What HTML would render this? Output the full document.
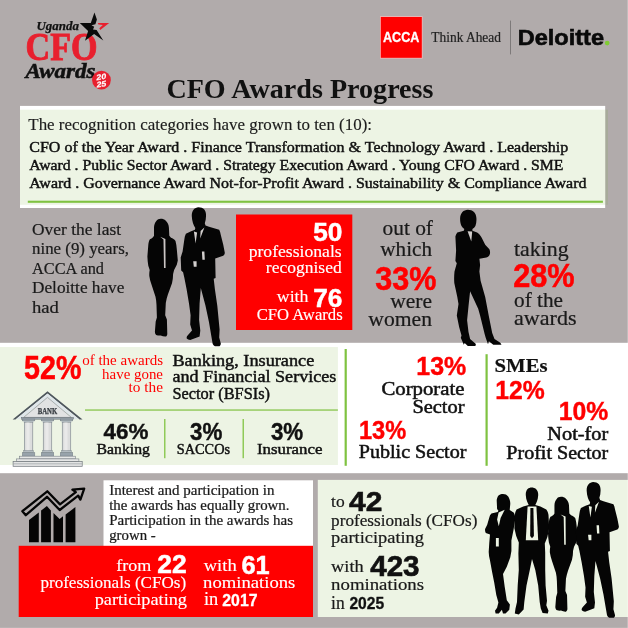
<!DOCTYPE html>
<html><head><meta charset="utf-8"><title>CFO Awards Progress</title>
<style>
html,body{margin:0;padding:0;background:#b1abab;}
svg{display:block;will-change:transform;font-family:"Liberation Serif",serif;}
text{white-space:pre;}
</style></head>
<body>
<svg width="628" height="628" viewBox="0 0 628 628">
<!-- backgrounds -->
<rect width="628" height="628" fill="#b1abab"/>
<rect x="0" y="627" width="628" height="1" fill="#b8b3b3"/>
<rect x="20" y="105.9" width="585.2" height="102.1" fill="#fff"/>
<rect x="605.2" y="109.7" width="2.8" height="95.1" fill="#a7ab9a"/>
<rect x="20" y="109.7" width="585.2" height="95.1" fill="#edf4e4"/>
<rect x="27.8" y="200.7" width="575.1" height="2.1" fill="#7fc241"/>
<rect x="0" y="342.8" width="628" height="130.4" fill="#fff"/>
<rect x="0" y="347" width="337.9" height="118" fill="#edf4e4"/>
<rect x="85" y="409.3" width="252.9" height="1.5" fill="#7fc241" opacity=".8"/>
<rect x="164" y="419" width="1.5" height="39.2" fill="#7fc241" opacity=".85"/>
<rect x="242.5" y="419" width="1.5" height="39.2" fill="#7fc241" opacity=".85"/>
<rect x="344.6" y="349" width="2.2" height="116.8" fill="#7fc241"/>
<rect x="485.5" y="354.2" width="2.2" height="111.6" fill="#7fc241"/>
<rect x="236" y="214.5" width="116.3" height="115.5" fill="#ff0000"/>
<rect x="103.5" y="480.3" width="209.5" height="66" fill="#fff"/>
<rect x="18.7" y="545.8" width="294.3" height="71.2" fill="#ff0000"/>
<rect x="317.8" y="479.9" width="310.2" height="137.1" fill="#edf4e4"/>
<rect x="380" y="16.2" width="42.6" height="42.4" fill="#f5b5b5"/>
<rect x="380.8" y="17" width="41" height="40.8" fill="#f00"/>
<!-- bank icon -->
<path d="M47.5 391.2 L82.6 419.6 L79.6 419.6 L47.5 393.7 L15.4 419.6 L12.6 419.6 Z" fill="#4e565d"/>
<path d="M47.5 393.6 L79 419.2 L74.6 419.2 L47.5 397.2 L20.4 419.2 L16 419.2 Z" fill="#dfe6ea"/>
<path d="M47.5 397.4 L71.4 417.4 L23.6 417.4 Z" fill="#e1e2e3" stroke="#7d858b" stroke-width=".6"/>
<text x="47.5" y="413.8" font-size="7.6" font-weight="bold" fill="#363b41" stroke="#363b41" stroke-width=".25" text-anchor="middle" textLength="19.5" lengthAdjust="spacingAndGlyphs">BANK</text>
<rect x="21.5" y="417.4" width="52" height="1.8" fill="#98a3ab" stroke="#4e565d" stroke-width=".4"/>
<rect x="22.25" y="419" width="12.6" height="1.9" fill="#98a3ab" stroke="#6d767d" stroke-width=".4"/>
<rect x="23.55" y="420.9" width="10" height="1.5" fill="#b9c1c7"/>
<rect x="24.35" y="422.2" width="8.4" height="28.8" fill="#dcdddd" stroke="#858d93" stroke-width=".7"/>
<rect x="26.35" y="422.6" width="3.2" height="28" fill="#e9e9e9"/>
<rect x="23.55" y="450.6" width="10" height="2.2" fill="#b4bcc2" stroke="#7c858b" stroke-width=".4"/>
<rect x="22.25" y="452.8" width="12.6" height="3.3" fill="#98a3ab" stroke="#6d767d" stroke-width=".4"/>
<rect x="41.2" y="419" width="12.6" height="1.9" fill="#98a3ab" stroke="#6d767d" stroke-width=".4"/>
<rect x="42.5" y="420.9" width="10" height="1.5" fill="#b9c1c7"/>
<rect x="43.3" y="422.2" width="8.4" height="28.8" fill="#dcdddd" stroke="#858d93" stroke-width=".7"/>
<rect x="45.3" y="422.6" width="3.2" height="28" fill="#e9e9e9"/>
<rect x="42.5" y="450.6" width="10" height="2.2" fill="#b4bcc2" stroke="#7c858b" stroke-width=".4"/>
<rect x="41.2" y="452.8" width="12.6" height="3.3" fill="#98a3ab" stroke="#6d767d" stroke-width=".4"/>
<rect x="60.2" y="419" width="12.6" height="1.9" fill="#98a3ab" stroke="#6d767d" stroke-width=".4"/>
<rect x="61.5" y="420.9" width="10" height="1.5" fill="#b9c1c7"/>
<rect x="62.3" y="422.2" width="8.4" height="28.8" fill="#dcdddd" stroke="#858d93" stroke-width=".7"/>
<rect x="64.3" y="422.6" width="3.2" height="28" fill="#e9e9e9"/>
<rect x="61.5" y="450.6" width="10" height="2.2" fill="#b4bcc2" stroke="#7c858b" stroke-width=".4"/>
<rect x="60.2" y="452.8" width="12.6" height="3.3" fill="#98a3ab" stroke="#6d767d" stroke-width=".4"/>
<rect x="19.4" y="456.2" width="56.2" height="2.7" fill="#e6e7e7" stroke="#7a8187" stroke-width=".6"/>
<rect x="16.3" y="458.9" width="62.6" height="2.7" fill="#e6e7e7" stroke="#7a8187" stroke-width=".6"/>
<rect x="13.1" y="461.6" width="69.1" height="4.7" fill="#e3e4e4" stroke="#6d747a" stroke-width=".7"/>
<rect x="13.5" y="463.6" width="68.3" height=".6" fill="#8a9197"/>
<!-- chart icon -->
<g fill="#050505">
<path d="M29 520.1 L38.8 512.5 V542.3 H29 Z"/>
<path d="M41.1 510.6 L46.9 506.1 L50.9 510.6 V542.3 H41.1 Z"/>
<path d="M53.5 513.1 L59.6 518.9 L63 516.3 V542.3 H53.5 Z"/>
<path d="M65.6 514.4 L75.4 507.1 V542.3 H65.6 Z"/>
</g>
<path d="M22.4 511.2 L47.3 491.3 L60 504.4 L75.8 492.2 L72.4 489.6 L84.2 488.6 L80.4 499.6 L78.2 495.6 L59.7 510 L47 496.8 L25.8 515.2 Z" fill="#b1abab" stroke="#050505" stroke-width="2.3" stroke-linejoin="round"/>
<!-- silhouettes -->
<g fill="#050505">
<g color="#cbc6c5"><path d="M160.7 218.8 C158.8 218.9 157.3 219.6 156.5 220.7 C154.8 222.6 154.1 225 154 227.5 L154 235.8 C153 237.6 151.6 238.6 149.9 239.3 C148.9 240.9 148.5 242.9 148.3 245.1 L147.4 256.4 C147.5 259.6 147.8 262.7 148.3 265.7 L149.7 269.9 C149.3 271.9 149.2 273.9 149.3 276 C149.7 278.9 150.4 281.6 151.4 284.3 L155.5 296.7 C156.1 299.4 156.4 302.2 156.5 305 L156.9 317.4 L155.7 321.5 L154.9 331.8 C155 333.3 155.4 334.3 156.1 334.9 C157.6 335.5 159.1 335.6 160.7 335.5 C162.3 336.3 164 336.7 165.8 336.6 C166.8 335.9 167.2 335 167.3 333.9 L166.9 319.4 L165.2 315.3 L165.8 302.9 C166.3 300 167 297.3 167.9 294.6 L172 283.3 C172.7 280.2 173.1 277.1 173.1 274 L174.1 269.9 L176.8 264.7 L177.8 260.6 L176.8 249.2 C176.6 246.3 176.2 243.5 175.5 240.9 C174.3 239.3 172.8 238.4 171 237.8 L169.3 235.8 L168.9 227.5 C168.7 224.8 167.7 222.5 165.8 220.7 C164.4 219.4 162.7 218.8 160.7 218.8 Z"/>
<path d="M160.2 236.8 L163.5 239.6 L164 267.9 L165.6 267.9 L165.4 239 Z" fill="currentColor"/></g>
<g color="#d3cfce"><path d="M198.4 207.2 C196.6 207.3 195 208.1 193.7 209.5 C192.2 211.4 191.6 213.6 191.8 216.2 C191.9 218.7 192.3 221 193 223.2 C193.6 225 194.4 226.5 195.3 227.9 L194.9 229.8 L190.6 231.5 L185.9 233.8 C185 235.6 184.5 237.6 184.3 239.7 L182.6 251.5 L180.7 257.4 L181.2 270.4 L183.1 272.3 L184.3 277.5 L186.6 289.3 L189 303.4 L190.6 315.2 L190.2 324.6 L192 330.5 L187.8 335.3 C186.9 336.2 186.5 337.2 186.6 338.3 C187.6 339.5 188.8 340 190.2 340 L199.6 336.4 L200.3 330.5 L199.1 319.9 L199.6 303.4 L200.8 288.1 L205.5 305.8 L209 322.3 L211.4 336.4 L212.6 343.5 C213.1 344.9 213.9 345.8 214.9 346.3 L219.6 346.3 C220.5 345.6 220.9 344.7 220.8 343.5 L219.2 337.6 L219.6 329.4 L217.3 305.8 L214.9 289.3 L213.7 278.7 L215.6 277.9 L215.2 258.6 L223.2 255.8 C224.2 255 224.7 254 224.8 252.7 L223.2 244.5 L220.8 235 C220.5 233 220 231.3 219.2 229.8 L209 226.8 L205.5 225.6 L204.8 223.2 C205.6 221 206 218.7 206 216.2 C206.2 213.5 205.6 211.3 204.3 209.5 C202.8 207.9 200.8 207.2 198.4 207.2 Z"/>
<path d="M193.9 231.6 L195.6 243.5 L197.1 232.4 Z M200.6 231 L204.4 227.4 L200.2 238.6 Z M201.9 251.5 L204.4 251.5 L204.8 259.8 L202.4 259.8 Z M193.2 261.2 L196.6 261.2 L196.6 266.8 L193.8 266.8 Z" fill="currentColor"/></g>
<!-- woman arms crossed (section 2 right) -->
<path d="M467.8 209.8 C465.7 209.9 463.8 210.7 462.4 212.1 C460.8 214 460 216.3 460.1 219.1 C460.1 221.7 460.6 224 461.5 226.1 C462.3 227.4 463.2 228.4 464.3 229.1 L463.8 230.7 L457.3 232.4 C456.3 233.5 455.7 234.9 455.4 236.6 L456.1 250.5 L455.4 261 L456.8 263.3 L454.5 271.4 C454.1 275.3 454 279.2 454.3 283.1 L457.3 297 L458.5 304 L456.8 315.6 L459.2 327.3 L461.5 335.4 L460.8 337.7 L463.8 344.7 L464.7 343.1 L467.8 345.9 L475.4 345.9 L475.9 344 L470.1 338.9 L468.5 331.9 L467.1 320.3 L468.5 306.3 L470.1 291.2 L478.2 308.7 L480.1 315.6 L484.7 334.2 L485.7 337.7 L488 344.2 L488.9 341.2 L493.3 344.7 L501.5 344.7 L500.3 342.8 L494.5 338.9 L492.2 333.1 L488.7 315.6 L485.2 297 L480.6 280.7 L479.4 271.4 L480.1 264.9 L479.4 258.7 L486.4 257.5 C488.2 256.9 489.4 255.7 489.9 254 C490.2 252.3 490.1 250.7 489.4 249.3 L485.2 244.7 L481.7 237.7 C480.6 235.5 479 233.7 477.1 232.4 L472.4 230.7 L472.4 229.1 C473.7 228.4 474.7 227.4 475.4 226.1 C476.3 223.6 476.6 220.9 476.4 218 C476.2 215.6 475.4 213.6 474 212.1 C472.4 210.6 470.3 209.8 467.8 209.8 Z"/>
<path d="M467.6 231.2 L472.2 231.6 L471.3 241.6 Z" fill="#d0ccca"/>
<!-- group of four -->
<path d="M503 493.9 C501.4 493.9 500 494.4 498.8 495.3 C497.5 496.7 496.8 498.5 496.7 500.6 L497.1 509 L498.4 510.7 L497.7 512.1 L491.4 513.6 C490.3 514.6 489.6 515.9 489.3 517.4 L487.2 524.7 L485.1 528.9 C484.9 530.4 485.1 531.8 485.8 533.1 L490 534.6 L489.3 542.6 L488.7 552 C488.8 554.9 489.2 557.7 490 560.4 L492.1 572 L494.2 582.5 L496.3 595.1 L498.4 602.4 L497.1 607.7 L495 610.8 L495.6 613.6 L498.8 613.6 L501.9 609.8 L503 613.6 L505.5 613.6 L509.3 609.8 L509.9 604.5 L506.8 600.3 L504.7 586.7 L503 574.1 L506.8 566.7 L510.3 557.3 L511.4 551 L511.4 540.5 L513.5 530 L515.2 519.5 C515.3 517 514.9 514.8 513.9 512.8 L509.7 510 L510.3 503.7 C510.3 500.9 509.6 498.5 508.2 496.4 C506.9 494.7 505.2 493.9 503 493.9 Z"/>
<path d="M498.6 512.6 L504.7 509.8 L500.6 518 L498.8 526.2 L497.1 519.5 Z M495.9 538 L498.8 538 L498.8 546.4 L495.9 546.4 Z" fill="#edf4e4"/>
<path d="M531.6 487.5 C530.1 487.5 528.8 488 527.6 489 C526.2 490.6 525.6 492.7 525.8 495.2 C525.9 497.6 526.4 499.8 527.2 501.8 L528.7 505.1 L523.2 506.6 L516.6 509.5 C515.6 511.1 515 512.9 514.8 515 L514.4 528.2 L516.2 535.9 L518.8 542.5 L518.4 553.5 L518.8 570 L517.7 585.4 L517 601.9 L515.5 608.5 L514.8 613.6 L518.8 614.5 L523.6 609.6 L524.3 601.9 L526.5 585.4 L529.8 570 L532 559 L535.3 570 L538.2 585.4 L539.7 601.9 L540.8 608.5 L542.6 612.9 L547.8 613.6 L548.5 610.7 L546.3 605.2 L547 600.8 L545.6 585.4 L545.2 570 L545.2 552.4 L544.8 543.6 L547.4 537 L549.2 528.2 L548.5 515 C548.2 512.9 547.5 511.1 546.3 509.5 L540.4 506.6 L535.3 505.1 L536.8 501.8 C537.6 499.8 538.1 497.6 538.2 495.2 C538.3 492.7 537.6 490.6 536 489 C534.8 488 533.3 487.5 531.6 487.5 Z"/>
<path d="M527.6 506.4 L536.4 506.4 L538.2 540.3 L525.8 540.3 Z" fill="#edf4e4"/>
<path d="M530.4 508 L533.4 508 L533.9 535.9 L532 538.2 L530.2 535.9 Z"/>
<g color="#edf4e4" transform="translate(404.3 283.5) scale(.975)"><path d="M160.7 218.8 C158.8 218.9 157.3 219.6 156.5 220.7 C154.8 222.6 154.1 225 154 227.5 L154 235.8 C153 237.6 151.6 238.6 149.9 239.3 C148.9 240.9 148.5 242.9 148.3 245.1 L147.4 256.4 C147.5 259.6 147.8 262.7 148.3 265.7 L149.7 269.9 C149.3 271.9 149.2 273.9 149.3 276 C149.7 278.9 150.4 281.6 151.4 284.3 L155.5 296.7 C156.1 299.4 156.4 302.2 156.5 305 L156.9 317.4 L155.7 321.5 L154.9 331.8 C155 333.3 155.4 334.3 156.1 334.9 C157.6 335.5 159.1 335.6 160.7 335.5 C162.3 336.3 164 336.7 165.8 336.6 C166.8 335.9 167.2 335 167.3 333.9 L166.9 319.4 L165.2 315.3 L165.8 302.9 C166.3 300 167 297.3 167.9 294.6 L172 283.3 C172.7 280.2 173.1 277.1 173.1 274 L174.1 269.9 L176.8 264.7 L177.8 260.6 L176.8 249.2 C176.6 246.3 176.2 243.5 175.5 240.9 C174.3 239.3 172.8 238.4 171 237.8 L169.3 235.8 L168.9 227.5 C168.7 224.8 167.7 222.5 165.8 220.7 C164.4 219.4 162.7 218.8 160.7 218.8 Z"/>
<path d="M160.2 236.8 L163.5 239.6 L164 267.9 L165.6 267.9 L165.4 239 Z" fill="currentColor"/></g>
<g color="#edf4e4" transform="translate(399.6 280) scale(.9755)"><path d="M198.4 207.2 C196.6 207.3 195 208.1 193.7 209.5 C192.2 211.4 191.6 213.6 191.8 216.2 C191.9 218.7 192.3 221 193 223.2 C193.6 225 194.4 226.5 195.3 227.9 L194.9 229.8 L190.6 231.5 L185.9 233.8 C185 235.6 184.5 237.6 184.3 239.7 L182.6 251.5 L180.7 257.4 L181.2 270.4 L183.1 272.3 L184.3 277.5 L186.6 289.3 L189 303.4 L190.6 315.2 L190.2 324.6 L192 330.5 L187.8 335.3 C186.9 336.2 186.5 337.2 186.6 338.3 C187.6 339.5 188.8 340 190.2 340 L199.6 336.4 L200.3 330.5 L199.1 319.9 L199.6 303.4 L200.8 288.1 L205.5 305.8 L209 322.3 L211.4 336.4 L212.6 343.5 C213.1 344.9 213.9 345.8 214.9 346.3 L219.6 346.3 C220.5 345.6 220.9 344.7 220.8 343.5 L219.2 337.6 L219.6 329.4 L217.3 305.8 L214.9 289.3 L213.7 278.7 L215.6 277.9 L215.2 258.6 L223.2 255.8 C224.2 255 224.7 254 224.8 252.7 L223.2 244.5 L220.8 235 C220.5 233 220 231.3 219.2 229.8 L209 226.8 L205.5 225.6 L204.8 223.2 C205.6 221 206 218.7 206 216.2 C206.2 213.5 205.6 211.3 204.3 209.5 C202.8 207.9 200.8 207.2 198.4 207.2 Z"/>
<path d="M193.9 231.6 L195.6 243.5 L197.1 232.4 Z M200.6 231 L204.4 227.4 L200.2 238.6 Z M201.9 251.5 L204.4 251.5 L204.8 259.8 L202.4 259.8 Z M193.2 261.2 L196.6 261.2 L196.6 266.8 L193.8 266.8 Z" fill="currentColor"/></g>
</g>

<!-- text -->
<text x="36.5" y="29.6" font-size="12" font-weight="bold" font-style="italic" fill="#111111" stroke="#111111" stroke-width="0.25" textLength="42.5" lengthAdjust="spacingAndGlyphs">Uganda</text>
<text x="25.5" y="60.2" font-size="39.5" font-weight="bold" fill="#e8202e" stroke="#e8202e" stroke-width="0.9" textLength="72.0" lengthAdjust="spacingAndGlyphs">CFO</text>
<text x="25.5" y="78" font-size="20" font-weight="bold" font-style="italic" fill="#111111" stroke="#111111" stroke-width="0.5" textLength="70.0" lengthAdjust="spacingAndGlyphs">Awards</text>
<text x="166.4" y="97.6" font-size="27" font-weight="bold" fill="#111111" textLength="267.1" lengthAdjust="spacingAndGlyphs">CFO Awards Progress</text>
<text x="383.0" y="42.4" font-size="13.8" font-family="Liberation Sans, sans-serif" font-weight="bold" fill="#fff" stroke="#fff" stroke-width="0.3" textLength="36.4" lengthAdjust="spacingAndGlyphs">ACCA</text>
<text x="431.3" y="42" font-size="13.8" fill="#222" stroke="#222" stroke-width="0.2" textLength="69.7" lengthAdjust="spacingAndGlyphs">Think Ahead</text>
<text x="517.8" y="44.9" font-size="21.4" font-family="Liberation Sans, sans-serif" font-weight="bold" fill="#0a0a0a" stroke="#0a0a0a" stroke-width="0.6" textLength="86.2" lengthAdjust="spacingAndGlyphs">Deloitte</text>
<text x="28.3" y="130" font-size="16.9" fill="#1c1c1c" stroke="#1c1c1c" stroke-width="0.15" textLength="343.7" lengthAdjust="spacingAndGlyphs">The recognition categories have grown to ten (10):</text>
<text x="29.3" y="151.6" font-size="15" fill="#111111" stroke="#111111" stroke-width="0.45" textLength="539.0" lengthAdjust="spacingAndGlyphs">CFO of the Year Award . Finance Transformation &amp; Technology Award . Leadership</text>
<text x="29.3" y="170" font-size="15" fill="#111111" stroke="#111111" stroke-width="0.45" textLength="534.2" lengthAdjust="spacingAndGlyphs">Award . Public Sector Award . Strategy Execution Award . Young CFO Award . SME</text>
<text x="29.3" y="187.8" font-size="15" fill="#111111" stroke="#111111" stroke-width="0.45" textLength="557.2" lengthAdjust="spacingAndGlyphs">Award . Governance Award Not-for-Profit Award . Sustainability &amp; Compliance Award</text>
<text x="32" y="235.1" font-size="17.3" fill="#1a1a1a" stroke="#1a1a1a" stroke-width="0.22" textLength="89" lengthAdjust="spacingAndGlyphs">Over the last</text>
<text x="32" y="254.2" font-size="17.3" fill="#1a1a1a" stroke="#1a1a1a" stroke-width="0.22" textLength="97" lengthAdjust="spacingAndGlyphs">nine (9) years,</text>
<text x="32" y="273.7" font-size="17.3" fill="#1a1a1a" stroke="#1a1a1a" stroke-width="0.22" textLength="72" lengthAdjust="spacingAndGlyphs">ACCA and</text>
<text x="32" y="293.3" font-size="17.3" fill="#1a1a1a" stroke="#1a1a1a" stroke-width="0.22" textLength="92.4" lengthAdjust="spacingAndGlyphs">Deloitte have</text>
<text x="32" y="312.5" font-size="17.3" fill="#1a1a1a" stroke="#1a1a1a" stroke-width="0.22" textLength="26.9" lengthAdjust="spacingAndGlyphs">had</text>
<text x="313.2" y="241.3" font-size="25.6" font-family="Liberation Sans, sans-serif" font-weight="bold" fill="#fff" stroke="#fff" stroke-width="0.5" textLength="29.2" lengthAdjust="spacingAndGlyphs">50</text>
<text x="248.7" y="256.5" font-size="17" fill="#fff" stroke="#fff" stroke-width="0.15" textLength="93.0" lengthAdjust="spacingAndGlyphs">professionals</text>
<text x="265.8" y="273.2" font-size="17" fill="#fff" stroke="#fff" stroke-width="0.15" textLength="75.9" lengthAdjust="spacingAndGlyphs">recognised</text>
<text x="276.8" y="301.9" font-size="17" fill="#fff" stroke="#fff" stroke-width="0.15" textLength="31.7" lengthAdjust="spacingAndGlyphs">with</text>
<text x="313.2" y="306.6" font-size="25.6" font-family="Liberation Sans, sans-serif" font-weight="bold" fill="#fff" stroke="#fff" stroke-width="0.5" textLength="29.1" lengthAdjust="spacingAndGlyphs">76</text>
<text x="256.7" y="320.4" font-size="16.6" fill="#fff" stroke="#fff" stroke-width="0.15" textLength="86.0" lengthAdjust="spacingAndGlyphs">CFO Awards</text>
<text x="382.5" y="234.5" font-size="20.3" fill="#1a1a1a" stroke="#1a1a1a" stroke-width="0.22" textLength="50.5" lengthAdjust="spacingAndGlyphs">out of</text>
<text x="380.3" y="255.5" font-size="20.3" fill="#1a1a1a" stroke="#1a1a1a" stroke-width="0.22" textLength="51.7" lengthAdjust="spacingAndGlyphs">which</text>
<text x="375.2" y="289.7" font-size="32.3" font-family="Liberation Sans, sans-serif" font-weight="bold" fill="#ff0000" stroke="#ff0000" stroke-width="0.5" textLength="61.2" lengthAdjust="spacingAndGlyphs">33%</text>
<text x="390.3" y="308" font-size="20.3" fill="#1a1a1a" stroke="#1a1a1a" stroke-width="0.22" textLength="41.7" lengthAdjust="spacingAndGlyphs">were</text>
<text x="368.3" y="325.8" font-size="20.3" fill="#1a1a1a" stroke="#1a1a1a" stroke-width="0.22" textLength="63.7" lengthAdjust="spacingAndGlyphs">women</text>
<text x="514" y="255.9" font-size="20.3" fill="#1a1a1a" stroke="#1a1a1a" stroke-width="0.22" textLength="54.6" lengthAdjust="spacingAndGlyphs">taking</text>
<text x="513.2" y="287.0" font-size="32.4" font-family="Liberation Sans, sans-serif" font-weight="bold" fill="#ff0000" stroke="#ff0000" stroke-width="0.5" textLength="61.5" lengthAdjust="spacingAndGlyphs">28%</text>
<text x="514" y="307.4" font-size="20.3" fill="#1a1a1a" stroke="#1a1a1a" stroke-width="0.22" textLength="49" lengthAdjust="spacingAndGlyphs">of the</text>
<text x="514" y="325.4" font-size="20.3" fill="#1a1a1a" stroke="#1a1a1a" stroke-width="0.22" textLength="62.5" lengthAdjust="spacingAndGlyphs">awards</text>
<text x="24.0" y="379.4" font-size="32.4" font-family="Liberation Sans, sans-serif" font-weight="bold" fill="#ff0000" stroke="#ff0000" stroke-width="0.5" textLength="57.4" lengthAdjust="spacingAndGlyphs">52%</text>
<text x="82.2" y="364.9" font-size="15.2" fill="#ff0000" textLength="80.8" lengthAdjust="spacingAndGlyphs">of the awards</text>
<text x="102.1" y="378.9" font-size="15.2" fill="#ff0000" textLength="60.9" lengthAdjust="spacingAndGlyphs">have gone</text>
<text x="128.6" y="392.1" font-size="15.2" fill="#ff0000" textLength="34.4" lengthAdjust="spacingAndGlyphs">to the</text>
<text x="172.4" y="365.6" font-size="16.3" fill="#111111" stroke="#111111" stroke-width="0.45" textLength="141.9" lengthAdjust="spacingAndGlyphs">Banking, Insurance</text>
<text x="172.4" y="382.3" font-size="16.3" fill="#111111" stroke="#111111" stroke-width="0.45" textLength="164.0" lengthAdjust="spacingAndGlyphs">and Financial Services</text>
<text x="172.4" y="398.9" font-size="16.3" fill="#111111" stroke="#111111" stroke-width="0.45" textLength="97.6" lengthAdjust="spacingAndGlyphs">Sector (BFSIs)</text>
<text x="103.5" y="439.2" font-size="22.6" font-family="Liberation Sans, sans-serif" font-weight="bold" fill="#111111" stroke="#111111" stroke-width="0.4" textLength="44.9" lengthAdjust="spacingAndGlyphs">46%</text>
<text x="96.5" y="453.7" font-size="15" fill="#111111" stroke="#111111" stroke-width="0.45" textLength="53.4" lengthAdjust="spacingAndGlyphs">Banking</text>
<text x="190.1" y="439.7" font-size="23.2" font-family="Liberation Sans, sans-serif" font-weight="bold" fill="#111111" stroke="#111111" stroke-width="0.4" textLength="32.3" lengthAdjust="spacingAndGlyphs">3%</text>
<text x="176.7" y="453.9" font-size="15" fill="#111111" stroke="#111111" stroke-width="0.45" textLength="53.4" lengthAdjust="spacingAndGlyphs">SACCOs</text>
<text x="270.9" y="439.7" font-size="23.2" font-family="Liberation Sans, sans-serif" font-weight="bold" fill="#111111" stroke="#111111" stroke-width="0.4" textLength="32.3" lengthAdjust="spacingAndGlyphs">3%</text>
<text x="257" y="453.9" font-size="15" fill="#111111" stroke="#111111" stroke-width="0.45" textLength="65.4" lengthAdjust="spacingAndGlyphs">Insurance</text>
<text x="416.3" y="375.4" font-size="25.6" font-family="Liberation Sans, sans-serif" font-weight="bold" fill="#ff0000" stroke="#ff0000" stroke-width="0.4" textLength="50.0" lengthAdjust="spacingAndGlyphs">13%</text>
<text x="381.4" y="395.0" font-size="18.2" fill="#111111" stroke="#111111" stroke-width="0.5" textLength="83.1" lengthAdjust="spacingAndGlyphs">Corporate</text>
<text x="412.4" y="412.5" font-size="18.2" fill="#111111" stroke="#111111" stroke-width="0.5" textLength="52.1" lengthAdjust="spacingAndGlyphs">Sector</text>
<text x="358.9" y="439.1" font-size="25.6" font-family="Liberation Sans, sans-serif" font-weight="bold" fill="#ff0000" stroke="#ff0000" stroke-width="0.4" textLength="47.3" lengthAdjust="spacingAndGlyphs">13%</text>
<text x="358.8" y="458.4" font-size="18.2" fill="#111111" stroke="#111111" stroke-width="0.5" textLength="107.6" lengthAdjust="spacingAndGlyphs">Public Sector</text>
<text x="494.6" y="372.3" font-size="19" font-weight="bold" fill="#111111" stroke="#111111" stroke-width="0.2" textLength="52.9" lengthAdjust="spacingAndGlyphs">SMEs</text>
<text x="495.2" y="399.2" font-size="25.6" font-family="Liberation Sans, sans-serif" font-weight="bold" fill="#ff0000" stroke="#ff0000" stroke-width="0.4" textLength="49.5" lengthAdjust="spacingAndGlyphs">12%</text>
<text x="558.8" y="419.7" font-size="25.5" font-family="Liberation Sans, sans-serif" font-weight="bold" fill="#ff0000" stroke="#ff0000" stroke-width="0.4" textLength="49.5" lengthAdjust="spacingAndGlyphs">10%</text>
<text x="547.3" y="440.1" font-size="18.2" fill="#111111" stroke="#111111" stroke-width="0.5" textLength="61.0" lengthAdjust="spacingAndGlyphs">Not-for</text>
<text x="506.3" y="458.8" font-size="18.2" fill="#111111" stroke="#111111" stroke-width="0.5" textLength="102.0" lengthAdjust="spacingAndGlyphs">Profit Sector</text>
<text x="109.2" y="495.3" font-size="13.6" fill="#1a1a1a" stroke="#1a1a1a" stroke-width="0.22" textLength="165.2" lengthAdjust="spacingAndGlyphs">Interest and participation in</text>
<text x="109.2" y="510" font-size="13.6" fill="#1a1a1a" stroke="#1a1a1a" stroke-width="0.22" textLength="180.3" lengthAdjust="spacingAndGlyphs">the awards has equally grown.</text>
<text x="109.2" y="524.7" font-size="13.6" fill="#1a1a1a" stroke="#1a1a1a" stroke-width="0.22" textLength="183.8" lengthAdjust="spacingAndGlyphs">Participation in the awards has</text>
<text x="109.2" y="539.6" font-size="13.6" fill="#1a1a1a" stroke="#1a1a1a" stroke-width="0.22" textLength="46.5" lengthAdjust="spacingAndGlyphs">grown -</text>
<text x="116.3" y="570.9" font-size="17.3" fill="#fff" stroke="#fff" stroke-width="0.15" textLength="35.0" lengthAdjust="spacingAndGlyphs">from</text>
<text x="157.3" y="573.1" font-size="25.4" font-family="Liberation Sans, sans-serif" font-weight="bold" fill="#fff" stroke="#fff" stroke-width="0.5" textLength="29.4" lengthAdjust="spacingAndGlyphs">22</text>
<text x="40.4" y="588.3" font-size="17.3" fill="#fff" stroke="#fff" stroke-width="0.15" textLength="145.8" lengthAdjust="spacingAndGlyphs">professionals (CFOs)</text>
<text x="94.7" y="604.6" font-size="17.3" fill="#fff" stroke="#fff" stroke-width="0.15" textLength="92.3" lengthAdjust="spacingAndGlyphs">participating</text>
<text x="203.7" y="570.7" font-size="17.3" fill="#fff" stroke="#fff" stroke-width="0.15" textLength="33.0" lengthAdjust="spacingAndGlyphs">with</text>
<text x="241.4" y="574.3" font-size="25.8" font-family="Liberation Sans, sans-serif" font-weight="bold" fill="#fff" stroke="#fff" stroke-width="0.5" textLength="28.2" lengthAdjust="spacingAndGlyphs">61</text>
<text x="203.1" y="588" font-size="17.3" fill="#fff" stroke="#fff" stroke-width="0.15" textLength="92.3" lengthAdjust="spacingAndGlyphs">nominations</text>
<text x="204.0" y="605.4" font-size="17.8" fill="#fff" stroke="#fff" stroke-width="0.15" textLength="14.3" lengthAdjust="spacingAndGlyphs">in</text>
<text x="222.3" y="605.5" font-size="15.6" font-family="Liberation Sans, sans-serif" font-weight="bold" fill="#fff" stroke="#fff" stroke-width="0.3" textLength="35.2" lengthAdjust="spacingAndGlyphs">2017</text>
<text x="331.1" y="507.1" font-size="17.3" fill="#1a1a1a" stroke="#1a1a1a" stroke-width="0.22" textLength="13.6" lengthAdjust="spacingAndGlyphs">to</text>
<text x="349.1" y="510.5" font-size="28.2" font-family="Liberation Sans, sans-serif" font-weight="bold" fill="#111111" stroke="#111111" stroke-width="0.6" textLength="33.3" lengthAdjust="spacingAndGlyphs">42</text>
<text x="331.1" y="526.1" font-size="17.3" fill="#1a1a1a" stroke="#1a1a1a" stroke-width="0.22" textLength="146.3" lengthAdjust="spacingAndGlyphs">professionals (CFOs)</text>
<text x="331.1" y="543.3" font-size="17.3" fill="#1a1a1a" stroke="#1a1a1a" stroke-width="0.22" textLength="92.9" lengthAdjust="spacingAndGlyphs">participating</text>
<text x="331.1" y="572.1" font-size="17.3" fill="#1a1a1a" stroke="#1a1a1a" stroke-width="0.22" textLength="32.6" lengthAdjust="spacingAndGlyphs">with</text>
<text x="370.2" y="576.4" font-size="28.6" font-family="Liberation Sans, sans-serif" font-weight="bold" fill="#111111" stroke="#111111" stroke-width="0.6" textLength="49.4" lengthAdjust="spacingAndGlyphs">423</text>
<text x="331.1" y="590.2" font-size="17.3" fill="#1a1a1a" stroke="#1a1a1a" stroke-width="0.22" textLength="92.9" lengthAdjust="spacingAndGlyphs">nominations</text>
<text x="331.1" y="608.6" font-size="17.8" fill="#1a1a1a" stroke="#1a1a1a" stroke-width="0.22" textLength="13.6" lengthAdjust="spacingAndGlyphs">in</text>
<text x="349.4" y="608.8" font-size="15.6" font-family="Liberation Sans, sans-serif" font-weight="bold" fill="#111111" stroke="#111111" stroke-width="0.3" textLength="34.7" lengthAdjust="spacingAndGlyphs">2025</text>
<!-- logos -->
<rect x="510" y="20.6" width="1" height="33.8" fill="#7d7979"/>
<circle cx="607.2" cy="43.1" r="2.35" fill="#80cc33"/>
<path d="M94.45 12.4 L96.9 19.5 L95.4 24.3 L91.5 25.2 L94.2 26.8 L93 29.5 L96.6 30.1 L103.3 40.5 L94.1 34 L85 40.8 L88.1 31 L79.8 23 L90.8 23.1 Z" fill="#0a0a0a"/>
<path d="M97.8 23 L109.2 23 L100.2 29.9 L99.3 28.3 L102.8 24.9 L98.4 24.6 Z" fill="#e8202e"/>
<circle cx="101.45" cy="80.1" r="9.4" fill="#e8202e"/>
<g transform="rotate(-9 101.5 80.1)" font-family="Liberation Sans, sans-serif" font-weight="bold" font-style="italic" font-size="7.8" fill="#fff" stroke="#fff" stroke-width=".2"><text x="96.9" y="79.6" textLength="9.8" lengthAdjust="spacingAndGlyphs">20</text><text x="95.9" y="86.6" textLength="9.8" lengthAdjust="spacingAndGlyphs">25</text></g>
<rect x="627" y="0" width="1" height="628" fill="#fff" opacity=".22"/>
</svg>
</body></html>
